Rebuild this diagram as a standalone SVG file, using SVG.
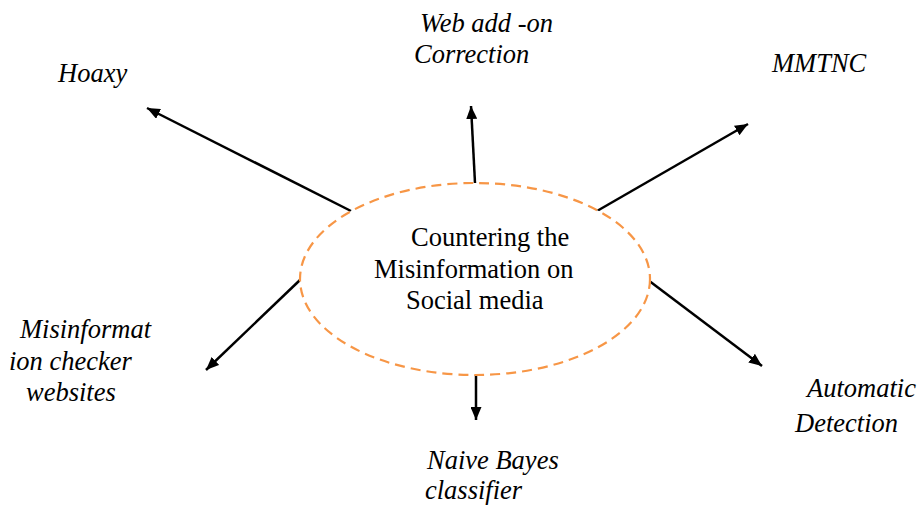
<svg xmlns="http://www.w3.org/2000/svg" width="917" height="506" viewBox="0 0 917 506">
  <style>
    .label { font-family: "Liberation Serif", "Times New Roman", serif; font-size: 26.5px; font-style: italic; fill: #000; }
    .center { font-family: "Liberation Serif", "Times New Roman", serif; font-size: 26.5px; fill: #000; }
    .conn { stroke: #000; stroke-width: 2.5; fill: none; marker-end: url(#arrow); }
    .hub { fill: #fff; stroke: #F79646; stroke-width: 2.2; stroke-dasharray: 10 6; }
  </style>
  <defs>
    <marker id="arrow" viewBox="0 0 13 11" refX="13" refY="5.5" markerWidth="13" markerHeight="11" markerUnits="userSpaceOnUse" orient="auto">
      <path d="M0,0 L13,5.5 L0,11 Z" fill="#000"/>
    </marker>
  </defs>
  <rect width="917" height="506" fill="#fff"/>

  <!-- connectors radiating from the central ellipse -->
  <g id="connectors">
    <line class="conn" x1="351" y1="211" x2="147" y2="108"/>
    <line class="conn" x1="475" y1="183" x2="471" y2="106"/>
    <line class="conn" x1="597" y1="211" x2="748" y2="124"/>
    <line class="conn" x1="300" y1="280" x2="206" y2="370"/>
    <line class="conn" x1="648" y1="280" x2="762" y2="366"/>
    <line class="conn" x1="476" y1="375" x2="476" y2="420"/>
  </g>

  <g id="hub">
    <ellipse class="hub" cx="475" cy="279" rx="175" ry="96"/>
    <text class="center" x="411" y="246">Countering the</text>
    <text class="center" x="374" y="278">Misinformation on</text>
    <text class="center" x="406" y="309">Social media</text>
  </g>

  <g id="hoaxy">
    <text class="label" x="58" y="82">Hoaxy</text>
  </g>

  <g id="web-addon">
    <text class="label" x="420" y="32">Web add -on</text>
    <text class="label" x="414" y="63">Correction</text>
  </g>

  <g id="mmtnc">
    <text class="label" x="772" y="72">MMTNC</text>
  </g>

  <g id="checker-sites">
    <text class="label" x="20" y="338">Misinformat</text>
    <text class="label" x="9" y="370">ion checker</text>
    <text class="label" x="26" y="401">websites</text>
  </g>

  <g id="auto-detection">
    <text class="label" x="807" y="397">Automatic</text>
    <text class="label" x="795" y="432">Detection</text>
  </g>

  <g id="naive-bayes">
    <text class="label" x="427" y="469">Naive Bayes</text>
    <text class="label" x="425" y="499">classifier</text>
  </g>
</svg>
